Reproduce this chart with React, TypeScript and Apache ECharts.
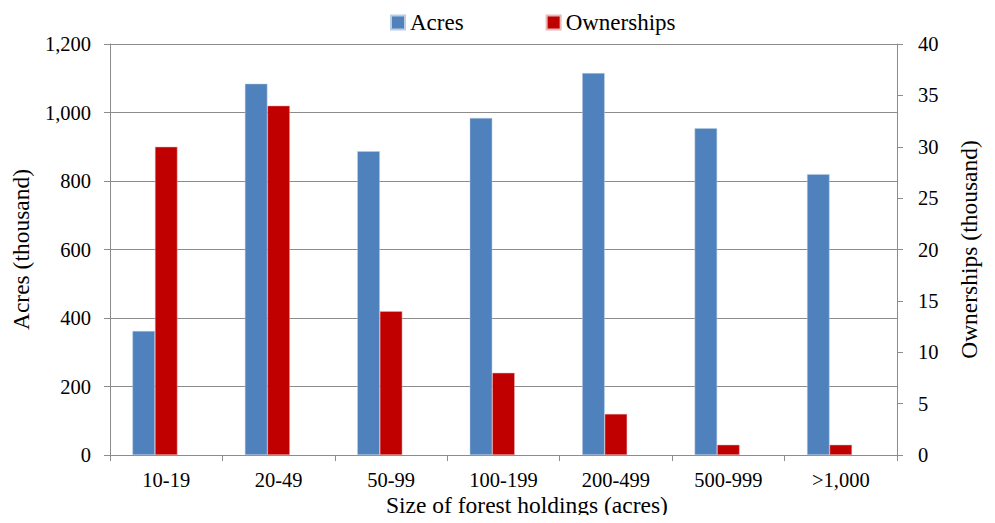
import React, { useEffect, useRef } from "react";
import * as echarts from "echarts";

const categories = ["10-19", "20-49", "50-99", "100-199", "200-499", "500-999", ">1,000"];
const acres = [362, 1084, 887, 984, 1115, 954, 820];
const ownerships = [30, 34, 14, 8, 4, 1, 1];
const spacer: number[] = [];

const FONT = "'Liberation Serif', 'DejaVu Serif', serif";
const GRID = "#8c8c8c";

export default function App() {
  const ref = useRef<HTMLDivElement>(null);
  useEffect(() => {
    if (!ref.current) return;
    const chart = echarts.init(ref.current, null, { renderer: "svg" });
    chart.setOption({
      animation: false,
      textStyle: { fontFamily: FONT, color: "#000" },
      legend: {
        top: 6,
        left: 385,
        itemWidth: 14,
        itemHeight: 14,
        itemGap: 82,
        icon: "rect",
        textStyle: { fontFamily: FONT, fontSize: 23, color: "#000" },
        data: ["Acres", "Ownerships"],
      },
      grid: { left: 110, right: 98, top: 44, bottom: 68 },
      xAxis: {
        type: "category",
        data: categories,
        axisLine: { lineStyle: { color: GRID, width: 1 } },
        axisTick: { show: true, alignWithLabel: false, length: 6, lineStyle: { color: GRID } },
        axisLabel: { fontFamily: FONT, fontSize: 20.5, color: "#000", margin: 14 },
      },
      yAxis: [
        {
          type: "value",
          min: 0,
          max: 1200,
          interval: 200,
          name: "Acres (thousand)",
          nameLocation: "middle",
          nameGap: 77,
          nameTextStyle: { fontFamily: FONT, fontSize: 23.5, color: "#000" },
          axisLine: { show: true, lineStyle: { color: GRID } },
          axisTick: { show: true, length: 6, lineStyle: { color: GRID } },
          axisLabel: {
            fontFamily: FONT,
            fontSize: 20.5,
            color: "#000",
            margin: 19,
            formatter: (v: number) => v.toLocaleString("en-US"),
          },
          splitLine: { show: true, lineStyle: { color: GRID } },
        },
        {
          type: "value",
          min: 0,
          max: 40,
          interval: 5,
          name: "Ownerships (thousand)",
          nameLocation: "middle",
          nameGap: 60,
          nameTextStyle: { fontFamily: FONT, fontSize: 23.5, color: "#000" },
          axisLine: { show: true, lineStyle: { color: GRID } },
          axisTick: { show: true, length: 6, lineStyle: { color: GRID } },
          axisLabel: { fontFamily: FONT, fontSize: 20.5, color: "#000", margin: 21 },
          splitLine: { show: false },
        },
      ],
      series: [
        {
          name: "Acres",
          type: "bar",
          yAxisIndex: 0,
          data: acres,
          barWidth: 22.5,
          barGap: "0%",
          itemStyle: { color: "#4f81bd", borderColor: "#b9cde5", borderWidth: 0.5 },
        },
        {
          name: "Ownerships",
          type: "bar",
          yAxisIndex: 1,
          data: ownerships,
          barWidth: 22.5,
          barGap: "0%",
          itemStyle: { color: "#c00000", borderColor: "#e6b9b8", borderWidth: 0.5 },
        },
        {
          name: "spacer",
          type: "bar",
          yAxisIndex: 1,
          data: spacer,
          barWidth: 22.5,
          barGap: "0%",
        },
      ],
      graphic: [
        {
          type: "text",
          left: 386,
          top: 493,
          style: {
            text: "Size of forest holdings (acres)",
            fontFamily: FONT,
            fontSize: 23.5,
            fill: "#000",
          },
        },
      ],
    });
    return () => chart.dispose();
  }, []);
  return <div ref={ref} style={{ width: 995, height: 523, margin: -8 }} />;
}
